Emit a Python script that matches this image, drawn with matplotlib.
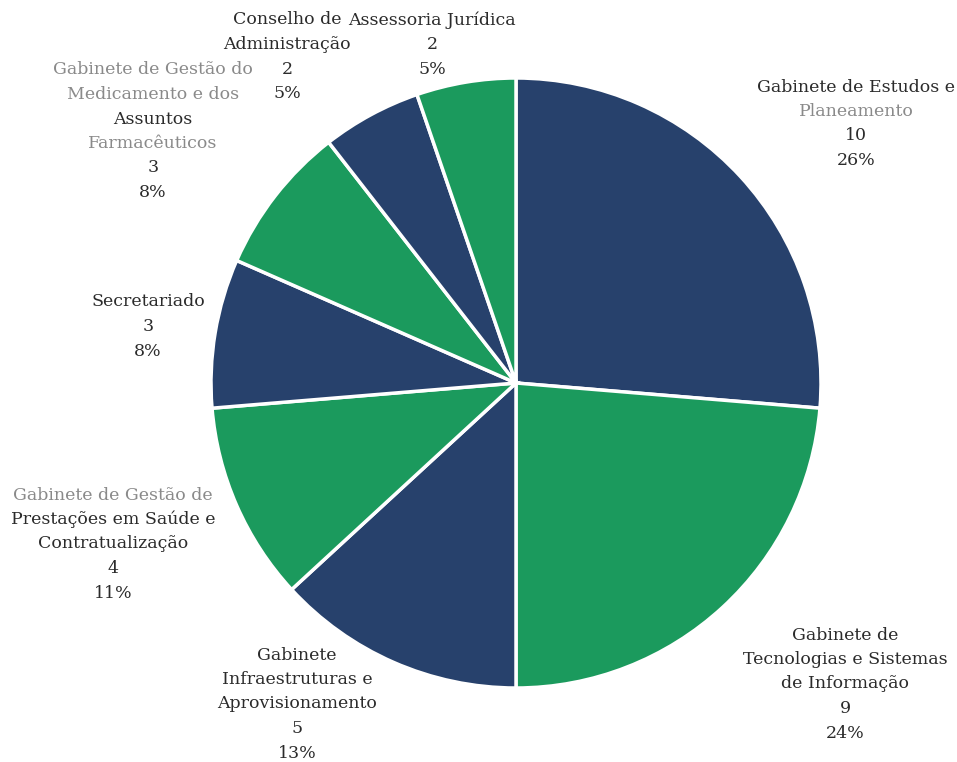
import matplotlib
matplotlib.use("Agg")
import matplotlib.pyplot as plt

# Staff per unit
units = [
    "Gabinete de Estudos e\nPlaneamento",
    "Gabinete de\nTecnologias e Sistemas\nde Informação",
    "Gabinete\nInfraestruturas e\nAprovisionamento",
    "Gabinete de Gestão de\nPrestações em Saúde e\nContratualização",
    "Secretariado",
    "Gabinete de Gestão do\nMedicamento e dos\nAssuntos\nFarmacêuticos",
    "Conselho de\nAdministração",
    "Assessoria Jurídica",
]
staff = [10, 9, 5, 4, 3, 3, 2, 2]

BLUE = "#27416c"
GREEN = "#1b9a5d"
slice_colors = [BLUE, GREEN, BLUE, GREEN, BLUE, GREEN, BLUE, GREEN]

# label block anchors (pixel coords, centre of first line)
label_pos = [(856, 87), (845, 635), (297, 655), (113, 495),
             (148, 302), (153, 70), (287, 20), (432, 20)]
# lines that came out faded in the printed report
faded = {"Planeamento", "Gabinete de Gestão de", "Gabinete de Gestão do",
         "Medicamento e dos", "Farmacêuticos"}

W, H = 957, 762
fig = plt.figure(figsize=(W / 100, H / 100), dpi=100)
ax = fig.add_axes([0, 0, 1, 1])
ax.set_xlim(0, W)
ax.set_ylim(0, H)
ax.set_aspect("equal")
ax.axis("off")

ax.pie(staff, colors=slice_colors, startangle=90, counterclock=False,
       center=(516, H - 383), radius=305,
       wedgeprops=dict(edgecolor="white", linewidth=2.5))
ax.set_xlim(0, W)
ax.set_ylim(0, H)

total = sum(staff)
line_h = 24.5
for name, n, (x, y) in zip(units, staff, label_pos):
    lines = name.split("\n") + [str(n), f"{round(100 * n / total)}%"]
    for i, line in enumerate(lines):
        col = "#8a8a8a" if line in faded else "#2b2b2b"
        ax.text(x, H - (y + i * line_h), line, ha="center", va="center",
                fontsize=12.5, family="DejaVu Serif", color=col)

fig.savefig("out.png", dpi=100, facecolor="white")
